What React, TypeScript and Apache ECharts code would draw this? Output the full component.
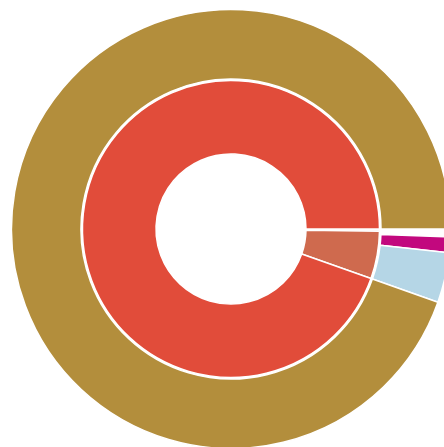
import React, { useEffect, useRef } from "react";
import * as echarts from "echarts";

const innerNames = ["Sliver", "Segment B", "Segment A"];
const innerValues = [0.9, 18.6, 340.5];
const innerColors = ["#f4dcd2", "#cf6a4e", "#e14c3a"];

const outerNames = ["Gap", "Magenta", "Blue", "Gold"];
const outerValues = [2.1, 4.1, 13.3, 340.5];
const outerColors = ["#ffffff", "#c2087e", "#b5d6e6", "#b38e3c"];

export default function App() {
  const ref = useRef<HTMLDivElement>(null);
  useEffect(() => {
    if (!ref.current) return;
    const chart = echarts.init(ref.current, undefined, { renderer: "svg" });
    chart.setOption({
      animation: false,
      series: [
        {
          type: "pie",
          silent: true,
          center: [231, 229],
          radius: [75, 148.5],
          startAngle: 0,
          clockwise: true,
          label: { show: false },
          labelLine: { show: false },
          itemStyle: { borderColor: "#ffffff", borderWidth: 1.5 },
          data: innerNames.map((n, i) => ({
            name: n,
            value: innerValues[i],
            itemStyle: { color: innerColors[i] },
          })),
        },
        {
          type: "pie",
          silent: true,
          center: [231, 229],
          radius: [150, 219.5],
          startAngle: 0,
          clockwise: true,
          label: { show: false },
          labelLine: { show: false },
          itemStyle: { borderColor: "#ffffff", borderWidth: 1.5 },
          data: outerNames.map((n, i) => ({
            name: n,
            value: outerValues[i],
            itemStyle: { color: outerColors[i] },
          })),
        },
      ],
    });
    return () => chart.dispose();
  }, []);
  return (
    <div
      ref={ref}
      style={{ position: "fixed", left: 0, top: 0, width: 444, height: 447 }}
    />
  );
}
